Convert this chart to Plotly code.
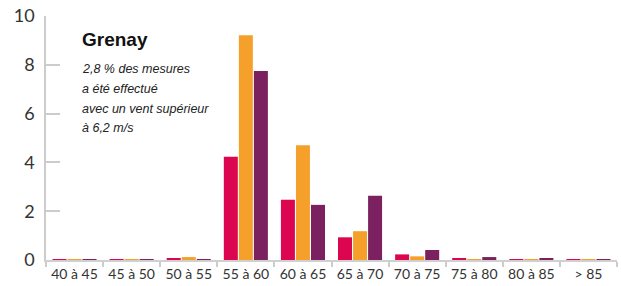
import plotly.graph_objects as go

categories = ["40 à 45", "45 à 50", "50 à 55", "55 à 60", "60 à 65",
              "65 à 70", "70 à 75", "75 à 80", "80 à 85", "> 85"]
serie_rouge = [0.02, 0.02, 0.05, 4.23, 2.47, 0.93, 0.23, 0.05, 0.02, 0.02]
serie_orange = [0.02, 0.02, 0.12, 9.21, 4.70, 1.18, 0.15, 0.04, 0.02, 0.02]
serie_violet = [0.02, 0.02, 0.02, 7.75, 2.26, 2.63, 0.41, 0.12, 0.08, 0.02]
y_ticks = [0, 2, 4, 6, 8, 10]

title_text = "Grenay"
subtitle_lines = ["2,8 % des mesures", "a été effectué",
                  "avec un vent supérieur", "à 6,2 m/s"]

fig = go.Figure()
for name, vals, col in [("Série 1", serie_rouge, "#DC0650"),
                        ("Série 2", serie_orange, "#F5A02A"),
                        ("Série 3", serie_violet, "#7B2160")]:
    fig.add_trace(go.Bar(x=categories, y=vals, name=name,
                         marker=dict(color=col, line=dict(width=0))))

fig.update_layout(
    width=621, height=286,
    margin=dict(l=46, r=4, t=15, b=25),
    paper_bgcolor="white", plot_bgcolor="white",
    barmode="group", bargap=0.21, bargroupgap=0.07,
    showlegend=False,
    font=dict(family="Lato, Open Sans, sans-serif", color="#333"),
)
fig.update_yaxes(
    range=[0, 10], tickvals=y_ticks, showgrid=False, zeroline=False,
    showline=True, linecolor="#cccccc", linewidth=1.5,
    ticks="inside", ticklen=14, tickcolor="#cccccc", tickwidth=1.5,
    tickfont=dict(size=18, color="#333"), ticklabelstandoff=6,
)
fig.update_xaxes(
    showgrid=False, showline=True, linecolor="#d0d0d0", linewidth=1.5,
    ticks="outside", tickson="boundaries", ticklen=5, tickcolor="#cccccc",
    tickwidth=1.5, tickfont=dict(size=14, color="#333"),
)

fig.add_annotation(xref="paper", yref="paper", x=0.0595, y=0.905,
                   xanchor="left", yanchor="middle", showarrow=False,
                   text="<b>" + title_text + "</b>",
                   font=dict(family="Liberation Sans, Arial, sans-serif", size=19, color="#111"))
for i, line in enumerate(subtitle_lines):
    ypix = 68 + 20 * i
    fig.add_annotation(xref="paper", yref="paper", x=0.0595,
                       y=(260.7 - ypix) / 246.0,
                       xanchor="left", yanchor="middle", showarrow=False,
                       text="<i>" + line + "</i>",
                       font=dict(family="Liberation Sans Narrow, Liberation Sans, sans-serif",
                                 size=12.5, color="#222"))

fig.write_html("out.html", config={"displayModeBar": False},
               post_script="document.body.style.margin='0';document.body.style.padding='0';")
